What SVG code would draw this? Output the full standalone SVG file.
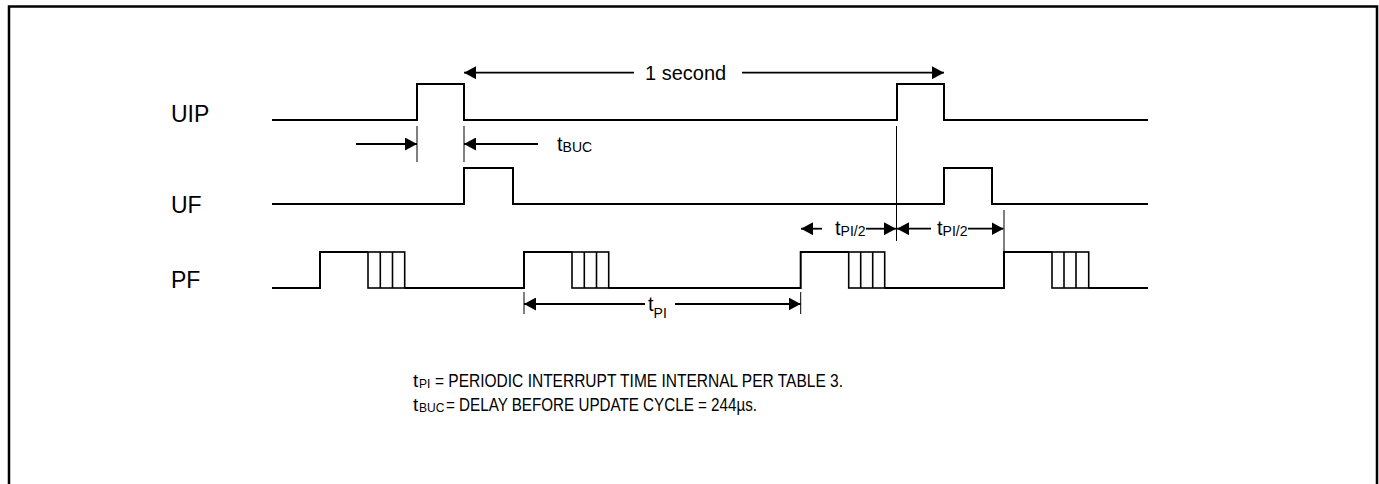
<svg xmlns="http://www.w3.org/2000/svg" width="1379" height="484" viewBox="0 0 1379 484">
<style>
.wave{fill:none;stroke:#000;stroke-width:2}
.hatch{fill:none;stroke:#000;stroke-width:1.6}
.dim{fill:none;stroke:#000;stroke-width:1.8}
.tick{fill:none;stroke:#000;stroke-width:1}
.lbl{font-family:"Liberation Sans",Arial,sans-serif;font-size:23px;fill:#000}
.t{font-family:"Liberation Sans",Arial,sans-serif;font-size:20px;fill:#000}
.sub{font-size:14px}
.note{font-family:"Liberation Sans",Arial,sans-serif;font-size:19px;fill:#000}
.nsub{font-family:"Liberation Sans",Arial,sans-serif;font-size:12px;fill:#000}
</style>
<defs>
<marker id="ah" markerUnits="userSpaceOnUse" markerWidth="13" markerHeight="13" refX="12" refY="6.5" orient="auto-start-reverse" viewBox="0 0 13 13">
<path d="M0,0 L12,6.5 L0,13 z" fill="#000"/>
</marker>
</defs>
<rect width="1379" height="484" fill="#fff"/>
<path d="M9,490 V6.5 H1377 V490" fill="none" stroke="#000" stroke-width="2.5"/>

<g id="UIP">
<text class="lbl" x="171" y="122">UIP</text>
<path class="wave" d="M272,120 H417 V84 H464 V120 H897 V84 H944 V120 H1148"/>
</g>
<g id="UF">
<text class="lbl" x="171" y="213">UF</text>
<path class="wave" d="M272,204 H464 V168 H513 V204 H944 V168 H992 V204 H1148"/>
</g>
<g id="PF">
<text class="lbl" x="171" y="288">PF</text>
<path class="wave" d="M272,288 H320 V252 H368 M404.7,288 H524 V252 H572 M608.7,288 H800.7 V252 H848.7 M884.7,288 H1004 V252 H1052 M1088.7,288 H1148"/>
<g class="hatch">
<rect x="368" y="252" width="36.7" height="36"/><path d="M380.3,252 V288 M392.5,252 V288"/>
<rect x="572" y="252" width="36.7" height="36"/><path d="M584.3,252 V288 M596.5,252 V288"/>
<rect x="848.7" y="252" width="36" height="36"/><path d="M860.7,252 V288 M872.7,252 V288"/>
<rect x="1052" y="252" width="36.7" height="36"/><path d="M1064,252 V288 M1076,252 V288"/>
</g>
</g>

<g id="connectors">
<line class="dim" x1="634" y1="72.7" x2="464" y2="72.7" marker-end="url(#ah)"/>
<line class="dim" x1="742" y1="72.7" x2="944" y2="72.7" marker-end="url(#ah)"/>
<path class="tick" d="M417,126 V162 M464,126 V162 M896.5,126 V241 M1004,210 V252 M524,292 V314 M800.7,292 V314"/>
<line class="dim" x1="356" y1="144" x2="417" y2="144" marker-end="url(#ah)"/>
<line class="dim" x1="538" y1="144" x2="464" y2="144" marker-end="url(#ah)"/>
<line class="dim" x1="822" y1="228.7" x2="801" y2="228.7" marker-end="url(#ah)"/>
<line class="dim" x1="866" y1="228.7" x2="896" y2="228.7" marker-end="url(#ah)"/>
<line class="dim" x1="931" y1="228.7" x2="897" y2="228.7" marker-end="url(#ah)"/>
<line class="dim" x1="968" y1="228.7" x2="1003.5" y2="228.7" marker-end="url(#ah)"/>
<line class="dim" x1="645" y1="304" x2="524" y2="304" marker-end="url(#ah)"/>
<line class="dim" x1="675" y1="304" x2="800.7" y2="304" marker-end="url(#ah)"/>
</g>

<g id="labels">
<text class="t" x="645" y="80">1 second</text>
<text class="t" x="557" y="151">t<tspan class="sub" dy="1">BUC</tspan></text>
<text class="t" x="835" y="235">t<tspan class="sub" dy="1">PI/2</tspan></text>
<text class="t" x="937" y="235">t<tspan class="sub" dy="1">PI/2</tspan></text>
<text class="t" x="648" y="311">t<tspan class="sub" dy="7">PI</tspan></text>
</g>

<g id="notes">
<text class="note" x="413" y="387">t</text>
<text class="nsub" x="419" y="388">PI</text>
<text class="note" x="435" y="387" textLength="408" lengthAdjust="spacingAndGlyphs">= PERIODIC INTERRUPT TIME INTERNAL PER TABLE 3.</text>
<text class="note" x="413" y="411">t</text>
<text class="nsub" x="419" y="412">BUC</text>
<text class="note" x="446" y="411" textLength="311" lengthAdjust="spacingAndGlyphs">= DELAY BEFORE UPDATE CYCLE = 244µs.</text>
</g>
</svg>
